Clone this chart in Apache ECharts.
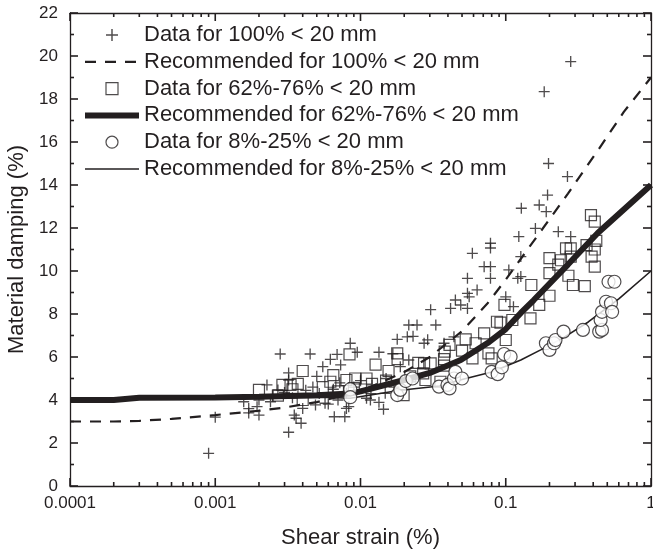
<!DOCTYPE html>
<html><head><meta charset="utf-8">
<script src="https://cdn.jsdelivr.net/npm/echarts@6/dist/echarts.min.js"></script>
<style>html,body{margin:0;padding:0;background:#fff}#c{width:653px;height:550px}</style>
</head><body><div id="c"></div>
<script>
const xTickLabels = ['0.0001','0.001','0.01','0.1','1'];
const xMajorTicks = [0.0001,0.001,0.01,0.1,1];
const yMajorTicks = [0,2,4,6,8,10,12,14,16,18,20,22];
const legendNames = ['Data for 100% < 20 mm','Recommended for 100% < 20 mm','Data for 62%-76% < 20 mm','Recommended for 62%-76% < 20 mm','Data for 8%-25% < 20 mm','Recommended for 8%-25% < 20 mm'];

const data100 = [[0.0009,1.52],[0.001,3.2],[0.00157,3.92],[0.0017,3.6],[0.0017,3.4],[0.00194,3.69],[0.002,3.3],[0.002,4.0],[0.00227,4.7],[0.0024,3.92],[0.0027,4.47],[0.0028,6.14],[0.0032,5.26],[0.0032,4.93],[0.0032,2.5],[0.0035,3.3],[0.0036,3.15],[0.0039,2.92],[0.004,3.61],[0.0045,6.14],[0.0049,3.77],[0.005,5.1],[0.0055,5.55],[0.0057,3.85],[0.0062,5.89],[0.0069,6.12],[0.0073,5.63],[0.0085,6.64],[0.0095,6.22],[0.0066,3.22],[0.0078,3.22],[0.006,3.81],[0.0083,3.69],[0.007,4.0],[0.008,4.31],[0.008,3.61],[0.011,4.08],[0.0117,4.0],[0.0118,4.3],[0.0134,3.89],[0.0144,3.57],[0.0134,6.22],[0.0148,4.31],[0.0167,6.15],[0.0179,6.82],[0.0188,5.55],[0.021,6.94],[0.0215,7.49],[0.0215,5.86],[0.023,6.96],[0.0245,7.49],[0.0274,6.64],[0.029,6.8],[0.0304,8.2],[0.033,7.49],[0.0376,6.64],[0.0417,8.26],[0.044,6.94],[0.045,8.65],[0.049,8.42],[0.0545,8.96],[0.0545,8.26],[0.056,8.8],[0.0545,9.66],[0.0589,10.82],[0.0635,9.12],[0.071,10.2],[0.0785,10.2],[0.0785,11.29],[0.0785,11.07],[0.0785,9.66],[0.1,8.8],[0.105,10.05],[0.113,8.34],[0.121,9.66],[0.123,11.6],[0.127,10.67],[0.127,9.74],[0.128,12.92],[0.16,11.98],[0.17,13.07],[0.19,12.76],[0.194,13.53],[0.197,15.0],[0.184,18.34],[0.23,11.83],[0.266,14.39],[0.28,11.6],[0.28,19.74],[0.0025,4.2],[0.003,4.35],[0.0034,4.1],[0.0042,4.45],[0.0047,4.6],[0.0052,4.3],[0.0065,4.5],[0.0072,4.8],[0.009,4.6],[0.01,4.9],[0.012,4.7],[0.015,5.0],[0.017,4.6]];

const data62 = [[0.002,4.47],[0.0027,4.2],[0.0029,4.7],[0.0033,4.7],[0.0034,4.5],[0.0037,4.75],[0.004,5.35],[0.004,4.0],[0.0062,4.85],[0.0065,5.16],[0.008,4.93],[0.0084,6.12],[0.0092,5.0],[0.011,5.0],[0.0127,5.65],[0.0156,5.35],[0.0179,6.17],[0.018,5.9],[0.0198,4.23],[0.025,5.73],[0.027,5.24],[0.0274,5.7],[0.028,4.93],[0.0304,5.7],[0.0355,4.85],[0.0376,5.6],[0.0376,5.9],[0.038,6.25],[0.041,6.56],[0.05,6.3],[0.053,6.82],[0.059,5.94],[0.062,6.64],[0.071,7.1],[0.076,6.17],[0.08,5.94],[0.087,7.64],[0.092,7.6],[0.098,8.42],[0.1,6.79],[0.111,7.72],[0.148,7.8],[0.15,9.35],[0.17,8.42],[0.2,8.85],[0.2,9.9],[0.2,10.6],[0.23,10.3],[0.24,10.5],[0.26,11.05],[0.27,9.78],[0.28,11.05],[0.28,10.67],[0.29,9.35],[0.35,9.3],[0.36,11.2],[0.386,12.6],[0.39,10.67],[0.41,12.3],[0.41,10.2],[0.42,11.4],[0.41,11.0],[0.0055,4.6],[0.007,4.4],[0.009,4.55],[0.012,4.75],[0.015,4.9],[0.022,5.1]];

const data8 = [[0.0085,4.5],[0.0085,4.13],[0.0179,4.23],[0.0188,4.47],[0.0205,4.88],[0.0228,5.0],[0.0347,4.62],[0.0397,4.7],[0.041,4.54],[0.044,5.0],[0.045,5.31],[0.05,5.0],[0.08,5.31],[0.088,5.2],[0.094,5.52],[0.0975,6.14],[0.108,6.01],[0.189,6.64],[0.2,6.33],[0.215,6.64],[0.22,6.79],[0.25,7.18],[0.34,7.26],[0.44,7.18],[0.46,7.26],[0.45,7.72],[0.46,8.1],[0.49,8.57],[0.53,8.5],[0.54,8.1],[0.51,9.5],[0.56,9.5]];

const rec100 = [[0.0001,3.0],[0.0002,3.0],[0.0003,3.03],[0.0005,3.12],[0.001,3.3],[0.002,3.5],[0.003,3.65],[0.005,3.9],[0.01,4.4],[0.02,5.3],[0.03,6.0],[0.05,7.2],[0.075,8.5],[0.1,9.6],[0.156,11.4],[0.268,13.6],[0.43,15.6],[0.65,17.4],[1,19.0]];
const rec62 = [[0.0001,4.0],[0.0002,4.0],[0.0003,4.1],[0.001,4.12],[0.002,4.15],[0.005,4.22],[0.0085,4.3],[0.01,4.4],[0.02,4.93],[0.03,5.26],[0.049,5.86],[0.075,6.65],[0.1,7.3],[0.127,8.05],[0.156,8.65],[0.268,10.3],[0.43,11.77],[1,14.0]];
const rec8 = [[0.0001,4.0],[0.0003,4.1],[0.002,4.12],[0.006,4.12],[0.0085,4.08],[0.0188,4.45],[0.035,4.65],[0.05,4.95],[0.08,5.3],[0.127,5.86],[0.174,6.33],[0.25,6.9],[0.37,7.63],[0.6,8.7],[1,10.0]];

const INK = '#231f20';
const FONT = 'Liberation Sans, Arial, sans-serif';
const X0 = 0.0001, X1 = 1, Y0 = 0, Y1 = 22;

// tick definitions: [x, y, side(0 bottom,1 top,2 left,3 right), length]
const tickData = [];
function addX(v, len) { tickData.push([v, Y0, 0, len]); tickData.push([v, Y1, 1, len]); }
function addY(v, len) { tickData.push([X0, v, 2, len]); tickData.push([X1, v, 3, len]); }
xMajorTicks.forEach(v => addX(v, 8));
for (let i = 0; i < xMajorTicks.length - 1; i++)
  for (let k = 2; k <= 9; k++) addX(k * xMajorTicks[i], 4);
yMajorTicks.forEach(v => addY(v, 8));
for (let i = 0; i < yMajorTicks.length - 1; i++) addY(yMajorTicks[i] + 1, 4);

function renderTick(params, api) {
  const side = api.value(2), len = api.value(3);
  const p = api.coord([api.value(0), api.value(1)]);
  let x2 = p[0], y2 = p[1];
  if (side === 0) y2 -= len; else if (side === 1) y2 += len;
  else if (side === 2) x2 += len; else x2 -= len;
  return {type: 'line', shape: {x1: p[0], y1: p[1], x2: x2, y2: y2}, style: {stroke: INK, lineWidth: 1.6}};
}

function xAx(pos, labels) {
  return {
    type: 'log', logBase: 10, min: X0, max: X1, position: pos,
    name: labels ? 'Shear strain (%)' : '', nameLocation: 'middle', nameGap: 41,
    nameTextStyle: {fontFamily: FONT, fontSize: 22, color: INK},
    axisLine: {show: true, onZero: false, lineStyle: {color: INK, width: 1.3}},
    axisTick: {show: false},
    axisLabel: {show: labels, margin: 9, fontFamily: FONT, fontSize: 17, color: INK,
      formatter: v => xTickLabels[Math.round(Math.log10(v)) + 4]},
    splitLine: {show: false}
  };
}
function yAx(pos, labels) {
  return {
    type: 'value', min: Y0, max: Y1, interval: 2, position: pos,
    name: labels ? 'Material damping (%)' : '', nameLocation: 'middle', nameGap: 32,
    nameTextStyle: {fontFamily: FONT, fontSize: 22, color: INK},
    axisLine: {show: true, onZero: false, lineStyle: {color: INK, width: 1.3}},
    axisTick: {show: false},
    axisLabel: {show: labels, margin: 12, fontFamily: FONT, fontSize: 17, color: INK},
    splitLine: {show: false}
  };
}

const noDot = {color: 'rgba(0,0,0,0)', borderWidth: 0};
const chart = echarts.init(document.getElementById('c'));
chart.setOption({
  animation: false,
  grid: {left: 70, right: 2, top: 13, bottom: 64, containLabel: false, outerBoundsMode: 'none'},
  xAxis: [xAx('bottom', true), xAx('top', false)],
  yAxis: [yAx('left', true), yAx('right', false)],
  legend: {
    orient: 'vertical', left: 82, top: 24, padding: 0, itemWidth: 54, itemHeight: 12, itemGap: 4.8,
    data: legendNames,
    textStyle: {fontFamily: FONT, fontSize: 22, color: INK, lineHeight: 22},
    lineStyle: {width: 'inherit'},
    itemStyle: {borderWidth: 'inherit'},
    selectedMode: false
  },
  series: [
    {name: legendNames[0], type: 'scatter', data: data100, symbol: 'path://M4.4,0H5.6V4.4H10V5.6H5.6V10H4.4V5.6H0V4.4H4.4Z',
     symbolSize: 11, z: 2, itemStyle: {color: INK, borderWidth: 0}},
    {name: legendNames[1], type: 'line', data: rec100, symbol: 'none', z: 3,
     lineStyle: {color: INK, width: 2.2, type: [11, 9]}, itemStyle: noDot},
    {name: legendNames[2], type: 'scatter', data: data62, symbol: 'path://M0,0H10V10H0Z', symbolSize: 11, z: 2,
     itemStyle: {color: 'rgba(255,255,255,0)', borderColor: INK, borderWidth: 1.2}},
    {name: legendNames[3], type: 'line', data: rec62, symbol: 'none', z: 3,
     lineStyle: {color: INK, width: 6}, itemStyle: noDot},
    {name: legendNames[4], type: 'scatter', data: data8, symbol: 'circle', symbolSize: 13, z: 5,
     itemStyle: {color: '#fff', borderColor: INK, borderWidth: 1.2}},
    {name: legendNames[5], type: 'line', data: rec8, symbol: 'none', z: 4,
     lineStyle: {color: INK, width: 1.6}, itemStyle: noDot},
    {type: 'custom', data: tickData, renderItem: renderTick, clip: false, silent: true, z: 10,
     encode: {x: 0, y: 1}}
  ]
});
</script></body></html>
